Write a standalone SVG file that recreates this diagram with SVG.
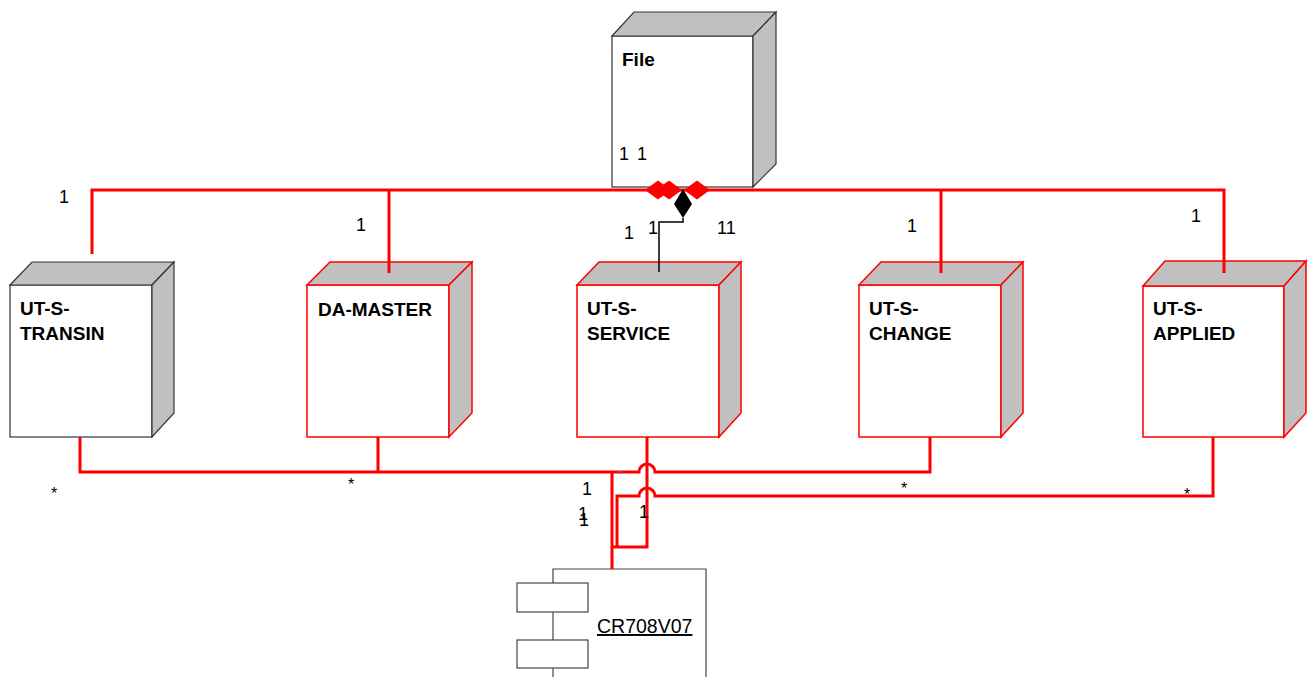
<svg xmlns="http://www.w3.org/2000/svg" width="1314" height="677" viewBox="0 0 1314 677">
<style>
  .front{fill:#fff}
  .face{fill:#c0c0c0}
  .blk{stroke:#333;stroke-width:1.2}
  .red{stroke:#ff0000;stroke-width:1.5}
  .title{font-family:"Liberation Sans",Arial,sans-serif;font-weight:bold;font-size:19px;fill:#000}
  .lbl{font-family:"Liberation Sans",Arial,sans-serif;font-size:18px;fill:#000}
  .star{font-family:"Liberation Sans",Arial,sans-serif;font-size:16px;fill:#000;text-anchor:middle}
  .conn{fill:none;stroke:#ff0000;stroke-width:3}
  .comp{fill:#fff;stroke:#444;stroke-width:1.2}
</style>

<g id="node-file">
  <rect x="612" y="36" width="141" height="151" class="front blk"/>
  <polygon points="612,36 634,12 776,12 753,36" class="face blk"/>
  <polygon points="753,36 776,12 776,164 753,187" class="face blk"/>
  <text x="622" y="66" class="title">File</text>
  <text x="624" y="160" class="lbl" text-anchor="middle">1</text>
  <text x="642" y="160" class="lbl" text-anchor="middle">1</text>
</g>

<g id="node-transin">
  <rect x="10" y="285" width="142" height="152" class="front blk"/>
  <polygon points="10,285 32,262 174,262 152,285" class="face blk"/>
  <polygon points="152,285 174,262 174,413 152,437" class="face blk"/>
  <text x="20" y="315" class="title">UT-S-</text>
  <text x="20" y="340" class="title">TRANSIN</text>
</g>

<g id="node-damaster">
  <rect x="307" y="285" width="142" height="152" class="front red"/>
  <polygon points="307,285 330,262 472,262 449,285" class="face red"/>
  <polygon points="449,285 472,262 472,413 449,437" class="face red"/>
  <text x="318" y="316" class="title">DA-MASTER</text>
</g>

<g id="node-service">
  <rect x="577" y="285" width="142" height="152" class="front red"/>
  <polygon points="577,285 599,262 741,262 719,285" class="face red"/>
  <polygon points="719,285 741,262 741,413 719,437" class="face red"/>
  <text x="587" y="315" class="title">UT-S-</text>
  <text x="587" y="340" class="title">SERVICE</text>
</g>

<g id="node-change">
  <rect x="859" y="285" width="142" height="152" class="front red"/>
  <polygon points="859,285 881,262 1023,262 1001,285" class="face red"/>
  <polygon points="1001,285 1023,262 1023,413 1001,437" class="face red"/>
  <text x="869" y="315" class="title">UT-S-</text>
  <text x="869" y="340" class="title">CHANGE</text>
</g>

<g id="node-applied">
  <rect x="1143" y="286" width="141" height="151" class="front red"/>
  <polygon points="1143,286 1165,261 1306,261 1284,286" class="face red"/>
  <polygon points="1284,286 1306,261 1306,413 1284,437" class="face red"/>
  <text x="1153" y="315" class="title">UT-S-</text>
  <text x="1153" y="340" class="title">APPLIED</text>
</g>

<g id="node-cr708v07">
  <path d="M553,677 V569 H706 V677" class="comp"/>
  <rect x="517" y="583" width="71" height="29" class="comp"/>
  <rect x="517" y="640" width="71" height="28" class="comp"/>
  <text x="597" y="633" font-family="Liberation Sans, Arial, sans-serif" font-size="19.5" text-decoration="underline" fill="#000">CR708V07</text>
</g>

<g id="connectors">
  <polyline class="conn" points="92,254 92,190 1224,190 1224,273"/>
  <line class="conn" x1="389" y1="190" x2="389" y2="273"/>
  <line class="conn" x1="941" y1="190" x2="941" y2="273"/>
  <polygon points="645,190 658,180.5 671,190 658,199.5" fill="#ff0000"/>
  <polygon points="656,190 669,180.5 682,190 669,199.5" fill="#ff0000"/>
  <polygon points="684,190 697,180.5 710,190 697,199.5" fill="#ff0000"/>
  <polygon points="683,189 692,204 683,218 674,204" fill="#000"/>
  <polyline points="683,218 683,222 659,222 659,272" fill="none" stroke="#000" stroke-width="1.5"/>
  <path class="conn" d="M80,437 V472 H612 M378,437 V472"/>
  <path class="conn" d="M612,472 H639 A8,8 0 0 1 655,472 H930 V437"/>
  <path class="conn" d="M617,547 V496 H639 A8,8 0 0 1 655,496 H1213 V437"/>
  <path class="conn" d="M647,437 V547 H612"/>
  <path class="conn" d="M612,472 V569"/>
</g>

<g id="labels">
  <text x="64" y="203" class="lbl" text-anchor="middle">1</text>
  <text x="361" y="231" class="lbl" text-anchor="middle">1</text>
  <text x="629" y="239" class="lbl" text-anchor="middle">1</text>
  <text x="653" y="234" class="lbl" text-anchor="middle">1</text>
  <text x="717" y="234" class="lbl">11</text>
  <text x="912" y="232" class="lbl" text-anchor="middle">1</text>
  <text x="1196" y="222" class="lbl" text-anchor="middle">1</text>
  <text x="587" y="495" class="lbl" text-anchor="middle">1</text>
  <text x="583" y="520" class="lbl" text-anchor="middle">1</text>
  <text x="584" y="526" class="lbl" text-anchor="middle">1</text>
  <text x="644" y="518" class="lbl" text-anchor="middle">1</text>
  <text x="54" y="499" class="star">*</text>
  <text x="351" y="490" class="star">*</text>
  <text x="621" y="478" font-family="Liberation Sans, Arial, sans-serif" font-size="10" fill="#666" text-anchor="middle">*</text>
  <text x="904" y="494" class="star">*</text>
  <text x="1187" y="500" class="star">*</text>
</g>
</svg>
